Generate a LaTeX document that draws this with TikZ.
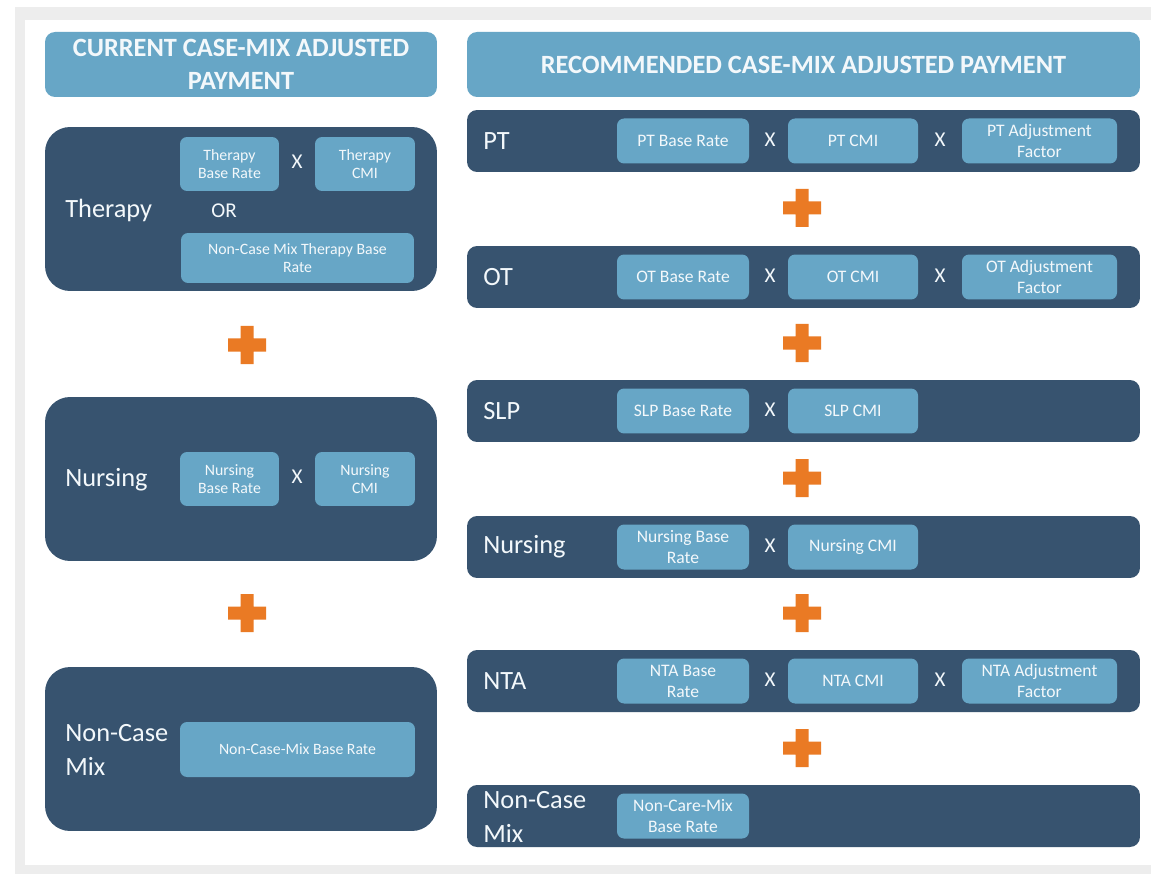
\documentclass[tikz,border=0pt]{standalone}
\usepackage{fontspec}
\setmainfont{Carlito}
\definecolor{panelblue}{HTML}{37536F}
\definecolor{boxblue}{HTML}{67A6C6}
\definecolor{plusorange}{HTML}{EA7A24}
\definecolor{framegrey}{HTML}{EDEDED}
\definecolor{softwhite}{HTML}{F3F8FB}
\begin{document}
\begin{tikzpicture}[x=0.02cm,y=0.02cm]
\tikzstyle{every node}+=[inner sep=0pt]
\tikzstyle{heading}=[fill=boxblue, rounded corners=0.2cm, minimum height=1.3cm, text=softwhite, align=center, font=\bfseries\fontsize{15}{19}\selectfont]
\tikzstyle{panel}=[fill=panelblue, rounded corners=0.5cm, minimum width=7.84cm, minimum height=3.28cm]
\tikzstyle{bar}=[fill=panelblue, rounded corners=0.2cm, minimum width=13.46cm, minimum height=1.24cm]
\tikzstyle{term}=[text=softwhite, anchor=west, align=left, font=\fontsize{15}{19}\selectfont]
\tikzstyle{factor}=[fill=boxblue, rounded corners=0.14cm, text=softwhite, align=center, font=\fontsize{10}{12}\selectfont, minimum height=0.9cm]
\tikzstyle{smallfactor}=[factor, font=\fontsize{9}{10.5}\selectfont, minimum height=1.08cm]
\tikzstyle{times}=[text=softwhite, font=\fontsize{12}{14}\selectfont]
% frame
\useasboundingbox (0,0) rectangle (1151,-874);
\fill [framegrey] (15,-7) rectangle (1151,-874);
\fill [white] (25,-20) rectangle (1151,-865);
% current payment
\node [heading, minimum width=7.84cm] (curtitle) at (241,-64.5) {CURRENT CASE-MIX ADJUSTED\\PAYMENT};
\node [panel] (curther) at (241,-209) {};
\node [term] (curthername) at (65,-210) {Therapy};
\node [smallfactor, minimum width=1.98cm] (curtherbase) at (229.5,-164) {Therapy\\Base Rate};
\node [times] (curtherx) at (297,-162) {X};
\node [smallfactor, minimum width=2cm] (curthercmi) at (365,-164) {Therapy\\CMI};
\node [times] (curtheror) at (224,-211) {OR};
\node [smallfactor, minimum width=4.66cm, minimum height=1cm] (curtherflat) at (297.5,-258) {Non-Case Mix Therapy Base\\Rate};
\fill [plusorange] (240.5,-326) rectangle (253.5,-364) (228,-338.5) rectangle (266,-351.5);
\node [panel] (curnurs) at (241,-479) {};
\node [term] (curnursname) at (65,-480) {Nursing};
\node [smallfactor, minimum width=1.98cm] (curnursbase) at (229.5,-479) {Nursing\\Base Rate};
\node [times] (curnursx) at (297,-477) {X};
\node [smallfactor, minimum width=2cm] (curnurscmi) at (365,-479) {Nursing\\CMI};
\fill [plusorange] (240.5,-594) rectangle (253.5,-632) (228,-606.5) rectangle (266,-619.5);
\node [panel] (curncm) at (241,-749) {};
\node [term] (curncmname) at (65,-750) {Non-Case\\Mix};
\node [smallfactor, minimum width=4.7cm, minimum height=1.1cm] (curncmbase) at (297.5,-749.5) {Non-Case-Mix Base Rate};
% recommended payment
\node [heading, minimum width=13.46cm] (rectitle) at (803.5,-64.5) {RECOMMENDED CASE-MIX ADJUSTED PAYMENT};
\node [bar] (recpt) at (803.5,-141) {};
\node [term] (recptname) at (483,-141) {PT};
\node [factor, minimum width=2.64cm] (recptbase) at (683,-141) {PT Base Rate};
\node [times] (recptxa) at (770,-140) {X};
\node [factor, minimum width=2.6cm] (recptcmi) at (853,-141) {PT CMI};
\node [times] (recptxb) at (940,-140) {X};
\node [factor, minimum width=3.1cm] (recptadj) at (1039.5,-141) {PT Adjustment\\Factor};
\fill [plusorange] (795.5,-189) rectangle (808.5,-227) (783,-201.5) rectangle (821,-214.5);
\node [bar] (recot) at (803.5,-277) {};
\node [term] (recotname) at (483,-277) {OT};
\node [factor, minimum width=2.64cm] (recotbase) at (683,-277) {OT Base Rate};
\node [times] (recotxa) at (770,-276) {X};
\node [factor, minimum width=2.6cm] (recotcmi) at (853,-277) {OT CMI};
\node [times] (recotxb) at (940,-276) {X};
\node [factor, minimum width=3.1cm] (recotadj) at (1039.5,-277) {OT Adjustment\\Factor};
\fill [plusorange] (795.5,-324) rectangle (808.5,-362) (783,-336.5) rectangle (821,-349.5);
\node [bar] (recslp) at (803.5,-411) {};
\node [term] (recslpname) at (483,-411) {SLP};
\node [factor, minimum width=2.64cm] (recslpbase) at (683,-411) {SLP Base Rate};
\node [times] (recslpx) at (770,-410) {X};
\node [factor, minimum width=2.6cm] (recslpcmi) at (853,-411) {SLP CMI};
\fill [plusorange] (795.5,-459) rectangle (808.5,-497) (783,-471.5) rectangle (821,-484.5);
\node [bar] (recnurs) at (803.5,-547) {};
\node [term] (recnursname) at (483,-547) {Nursing};
\node [factor, minimum width=2.64cm] (recnursbase) at (683,-547) {Nursing Base\\Rate};
\node [times] (recnursx) at (770,-546) {X};
\node [factor, minimum width=2.6cm] (recnurscmi) at (853,-547) {Nursing CMI};
\fill [plusorange] (795.5,-594) rectangle (808.5,-632) (783,-606.5) rectangle (821,-619.5);
\node [bar] (recnta) at (803.5,-681) {};
\node [term] (recntaname) at (483,-681) {NTA};
\node [factor, minimum width=2.64cm] (recntabase) at (683,-681) {NTA Base\\Rate};
\node [times] (recntaxa) at (770,-680) {X};
\node [factor, minimum width=2.6cm] (recntacmi) at (853,-681) {NTA CMI};
\node [times] (recntaxb) at (940,-680) {X};
\node [factor, minimum width=3.1cm] (recntaadj) at (1039.5,-681) {NTA Adjustment\\Factor};
\fill [plusorange] (795.5,-729) rectangle (808.5,-767) (783,-741.5) rectangle (821,-754.5);
\node [bar] (recncm) at (803.5,-816) {};
\node [term] (recncmname) at (483,-817) {Non-Case\\Mix};
\node [factor, minimum width=2.64cm] (recncmbase) at (683,-816) {Non-Care-Mix\\Base Rate};
\end{tikzpicture}
\end{document}
